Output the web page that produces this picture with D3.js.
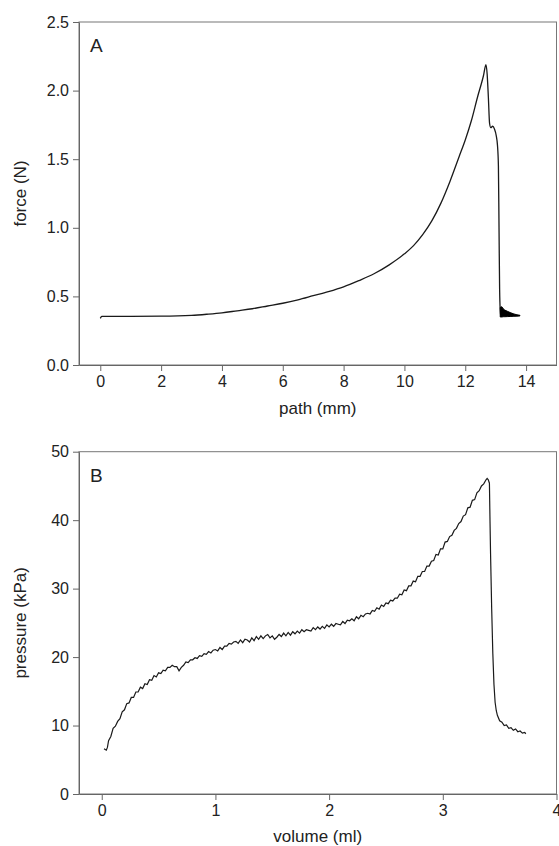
<!DOCTYPE html>
<html>
<head>
<meta charset="utf-8">
<script src="https://cdn.jsdelivr.net/npm/d3@7"></script>
<style>
  body { margin: 0; background: #fff; }
  svg text { font-family: Arial, "Liberation Sans", sans-serif; fill: #222; }
</style>
</head>
<body>
<div id="chart"></div>
<script>
// panel A: force vs path
var pathMm = [0, 0.05, 0.5, 1, 2, 3, 3.5, 4, 4.5, 5, 5.5, 6, 6.5, 7, 7.5, 8, 8.5, 9, 9.5, 10,
  10.3, 10.6, 10.9, 11.2, 11.5, 11.8, 12.0, 12.2, 12.4, 12.6, 12.68, 12.72, 12.76, 12.80, 12.84,
  12.9, 12.96, 13.02, 13.06, 13.09, 13.11, 13.13, 13.15, 13.17];
var forceN = [0.34, 0.355, 0.355, 0.355, 0.356, 0.362, 0.37, 0.38, 0.395, 0.41, 0.43, 0.45, 0.475, 0.505, 0.535, 0.57, 0.615, 0.665, 0.73, 0.81,
  0.87, 0.95, 1.05, 1.18, 1.34, 1.52, 1.64, 1.78, 1.95, 2.11, 2.19, 2.12, 1.95, 1.76, 1.73,
  1.74, 1.72, 1.67, 1.60, 1.45, 1.00, 0.55, 0.40, 0.36];
// noisy tail after the break (drawn as a filled band)
var tailMm = [13.15, 13.2, 13.25, 13.3, 13.4, 13.5, 13.6, 13.7, 13.8];
var tailHigh = [0.42, 0.425, 0.41, 0.40, 0.39, 0.38, 0.372, 0.366, 0.362];
var tailLow = [0.35, 0.35, 0.352, 0.352, 0.353, 0.354, 0.355, 0.356, 0.358];
var forceTicks = [0, 0.5, 1.0, 1.5, 2.0, 2.5];
var pathTicks = [0, 2, 4, 6, 8, 10, 12, 14];

// panel B: pressure vs volume
var volMl = [0.02, 0.04, 0.05, 0.06, 0.08, 0.10, 0.12, 0.14, 0.16, 0.18, 0.20, 0.22, 0.24, 0.26, 0.28, 0.30,
  0.32, 0.34, 0.36, 0.38, 0.40, 0.42, 0.44, 0.46, 0.48, 0.50, 0.52, 0.54, 0.56, 0.58, 0.60, 0.62, 0.64,
  0.66, 0.68, 0.70, 0.72, 0.74, 0.76, 0.78, 0.80, 0.82, 0.84, 0.86, 0.88, 0.90, 0.92, 0.94, 0.96, 0.98,
  1.00, 1.02, 1.04, 1.06, 1.08, 1.10, 1.12, 1.14, 1.16, 1.18, 1.20, 1.22, 1.24, 1.26, 1.28, 1.30, 1.32,
  1.34, 1.36, 1.38, 1.40, 1.42, 1.44, 1.46, 1.48, 1.50, 1.52, 1.54, 1.56, 1.58, 1.60, 1.62, 1.64, 1.66,
  1.68, 1.70, 1.72, 1.74, 1.76, 1.78, 1.80, 1.82, 1.84, 1.86, 1.88, 1.90, 1.92, 1.94, 1.96, 1.98, 2.00,
  2.02, 2.04, 2.06, 2.08, 2.10, 2.12, 2.14, 2.16, 2.18, 2.20, 2.22, 2.24, 2.26, 2.28, 2.30, 2.32, 2.34,
  2.36, 2.38, 2.40, 2.42, 2.44, 2.46, 2.48, 2.50, 2.52, 2.54, 2.56, 2.58, 2.60, 2.62, 2.64, 2.66, 2.68,
  2.70, 2.72, 2.74, 2.76, 2.78, 2.80, 2.82, 2.84, 2.86, 2.88, 2.90, 2.92, 2.94, 2.96, 2.98, 3.00, 3.02,
  3.04, 3.06, 3.08, 3.10, 3.12, 3.14, 3.16, 3.18, 3.20, 3.22, 3.24, 3.26, 3.28, 3.30, 3.32, 3.34, 3.36,
  3.38, 3.39, 3.40, 3.41, 3.415, 3.42, 3.43, 3.44, 3.45, 3.46, 3.47, 3.48, 3.50, 3.52, 3.54, 3.56, 3.58,
  3.60, 3.62, 3.64, 3.66, 3.68, 3.70, 3.72, 3.73];
var pressKPa = [6.6, 6.4, 6.8, 7.8, 8.4, 9.6, 9.9, 10.6, 11.0, 12.0, 12.3, 13.2, 13.3, 14.1, 14.1, 14.9,
  14.9, 15.6, 15.4, 16.1, 16.0, 16.7, 16.6, 17.3, 17.1, 17.7, 17.6, 18.1, 18.0, 18.5, 18.5, 18.8, 18.6,
  18.6, 18.0, 18.5, 18.8, 19.3, 19.2, 19.6, 19.6, 19.9, 19.8, 20.2, 20.1, 20.5, 20.4, 20.8, 20.6, 21.0,
  21.1, 20.9, 21.4, 21.1, 21.6, 21.6, 22.0, 21.9, 22.2, 22.3, 22.0, 22.5, 22.1, 22.6, 22.5, 22.2, 22.8,
  22.4, 23.0, 22.6, 23.1, 22.7, 23.1, 23.3, 22.8, 23.1, 22.6, 22.9, 23.3, 23.0, 23.5, 23.1, 23.6, 23.2,
  23.7, 23.4, 23.8, 23.5, 24.0, 23.7, 24.0, 23.9, 23.8, 24.3, 24.0, 24.4, 24.1, 24.5, 24.2, 24.7, 24.4,
  24.8, 24.5, 24.9, 24.8, 24.7, 25.2, 24.9, 25.4, 25.3, 25.6, 25.3, 25.9, 25.6, 26.1, 25.9, 26.3, 26.4,
  26.3, 26.8, 26.7, 27.2, 27.0, 27.6, 27.4, 27.9, 27.8, 28.3, 28.2, 28.6, 28.6, 29.2, 29.1, 29.8, 29.7,
  30.4, 30.4, 31.1, 31.0, 31.8, 31.8, 32.5, 32.5, 33.3, 33.3, 34.0, 34.1, 35.0, 34.9, 35.8, 35.8, 36.8,
  36.9, 37.6, 37.8, 38.5, 38.8, 39.5, 39.8, 40.6, 40.8, 41.8, 41.9, 42.9, 43.0, 44.0, 44.3, 45.0, 45.3,
  45.9, 46.1, 45.9, 45.4, 40.0, 35.1, 27.0, 20.5, 16.0, 13.4, 12.2, 11.5, 10.7, 10.5, 10.0, 10.1, 9.6,
  9.7, 9.3, 9.5, 9.1, 9.2, 8.9, 9.0, 8.8];
var pressTicks = [0, 10, 20, 30, 40, 50];
var volTicks = [0, 1, 2, 3, 4];

var W = 559, H = 846;
var svg = d3.select('#chart').append('svg')
    .attr('width', W)
    .attr('height', H);

var left = 79, right = 556.5;

function panel(opt) {
    var x = d3.scaleLinear().domain(opt.xDomain).range([left, right]);
    var y = d3.scaleLinear().domain(opt.yDomain).range([opt.bottom, opt.top]);
    var g = svg.append('g');

    // frame
    g.append('rect')
        .attr('x', left).attr('y', opt.top)
        .attr('width', right - left).attr('height', opt.bottom - opt.top)
        .attr('fill', 'none').attr('stroke', '#777').attr('stroke-width', 1);

    var xAxis = g.append('g')
        .attr('transform', 'translate(0,' + opt.bottom + ')')
        .call(d3.axisBottom(x).tickValues(opt.xTicks).tickSize(6).tickSizeOuter(0).tickPadding(5).tickFormat(opt.xFormat));
    var yAxis = g.append('g')
        .attr('transform', 'translate(' + left + ',0)')
        .call(d3.axisLeft(y).tickValues(opt.yTicks).tickSize(6).tickSizeOuter(0).tickPadding(4).tickFormat(opt.yFormat));
    [xAxis, yAxis].forEach(function (a) {
        a.select('.domain').attr('stroke', '#666');
        a.selectAll('.tick line').attr('stroke', '#666');
        a.selectAll('.tick text').attr('font-size', 16).attr('fill', '#222')
            .attr('font-family', 'Arial, "Liberation Sans", sans-serif');
    });

    g.append('text')
        .attr('x', (left + right) / 2).attr('y', opt.xTitleY)
        .attr('text-anchor', 'middle').attr('font-size', 17)
        .text(opt.xTitle);
    g.append('text')
        .attr('transform', 'translate(' + opt.yTitleX + ',' + (opt.top + opt.bottom) / 2 + ') rotate(-90)')
        .attr('text-anchor', 'middle').attr('font-size', 17)
        .text(opt.yTitle);
    g.append('text')
        .attr('x', 90).attr('y', opt.top + 30)
        .attr('font-size', 19)
        .text(opt.letter);

    return { g: g, x: x, y: y };
}

// ---- A ----
var pa = panel({
    top: 22, bottom: 365,
    xDomain: [-0.7, 15], yDomain: [0, 2.5],
    xTicks: pathTicks, yTicks: forceTicks,
    xFormat: d3.format('d'), yFormat: d3.format('.1f'),
    xTitle: 'path (mm)', yTitle: 'force (N)',
    xTitleY: 414, yTitleX: 26, letter: 'A'
});
var lineA = d3.line()
    .x(function (d, i) { return pa.x(pathMm[i]); })
    .y(function (d) { return pa.y(d); })
    .curve(d3.curveMonotoneX);
pa.g.append('path')
    .attr('d', lineA(forceN))
    .attr('fill', 'none').attr('stroke', '#1a1a1a').attr('stroke-width', 1.3);
var areaA = d3.area()
    .x(function (d, i) { return pa.x(tailMm[i]); })
    .y0(function (d, i) { return pa.y(tailLow[i]); })
    .y1(function (d) { return pa.y(d); });
pa.g.append('path')
    .attr('d', areaA(tailHigh))
    .attr('fill', '#000').attr('stroke', '#000').attr('stroke-width', 1);

// ---- B ----
var pb = panel({
    top: 451.7, bottom: 794,
    xDomain: [-0.2, 4], yDomain: [0, 50],
    xTicks: volTicks, yTicks: pressTicks,
    xFormat: d3.format('d'), yFormat: d3.format('d'),
    xTitle: 'volume (ml)', yTitle: 'pressure (kPa)',
    xTitleY: 842, yTitleX: 26, letter: 'B'
});
var lineB = d3.line()
    .x(function (d, i) { return pb.x(volMl[i]); })
    .y(function (d) { return pb.y(d); });
pb.g.append('path')
    .attr('d', lineB(pressKPa))
    .attr('fill', 'none').attr('stroke', '#1a1a1a').attr('stroke-width', 1.2);
</script>
</body>
</html>
